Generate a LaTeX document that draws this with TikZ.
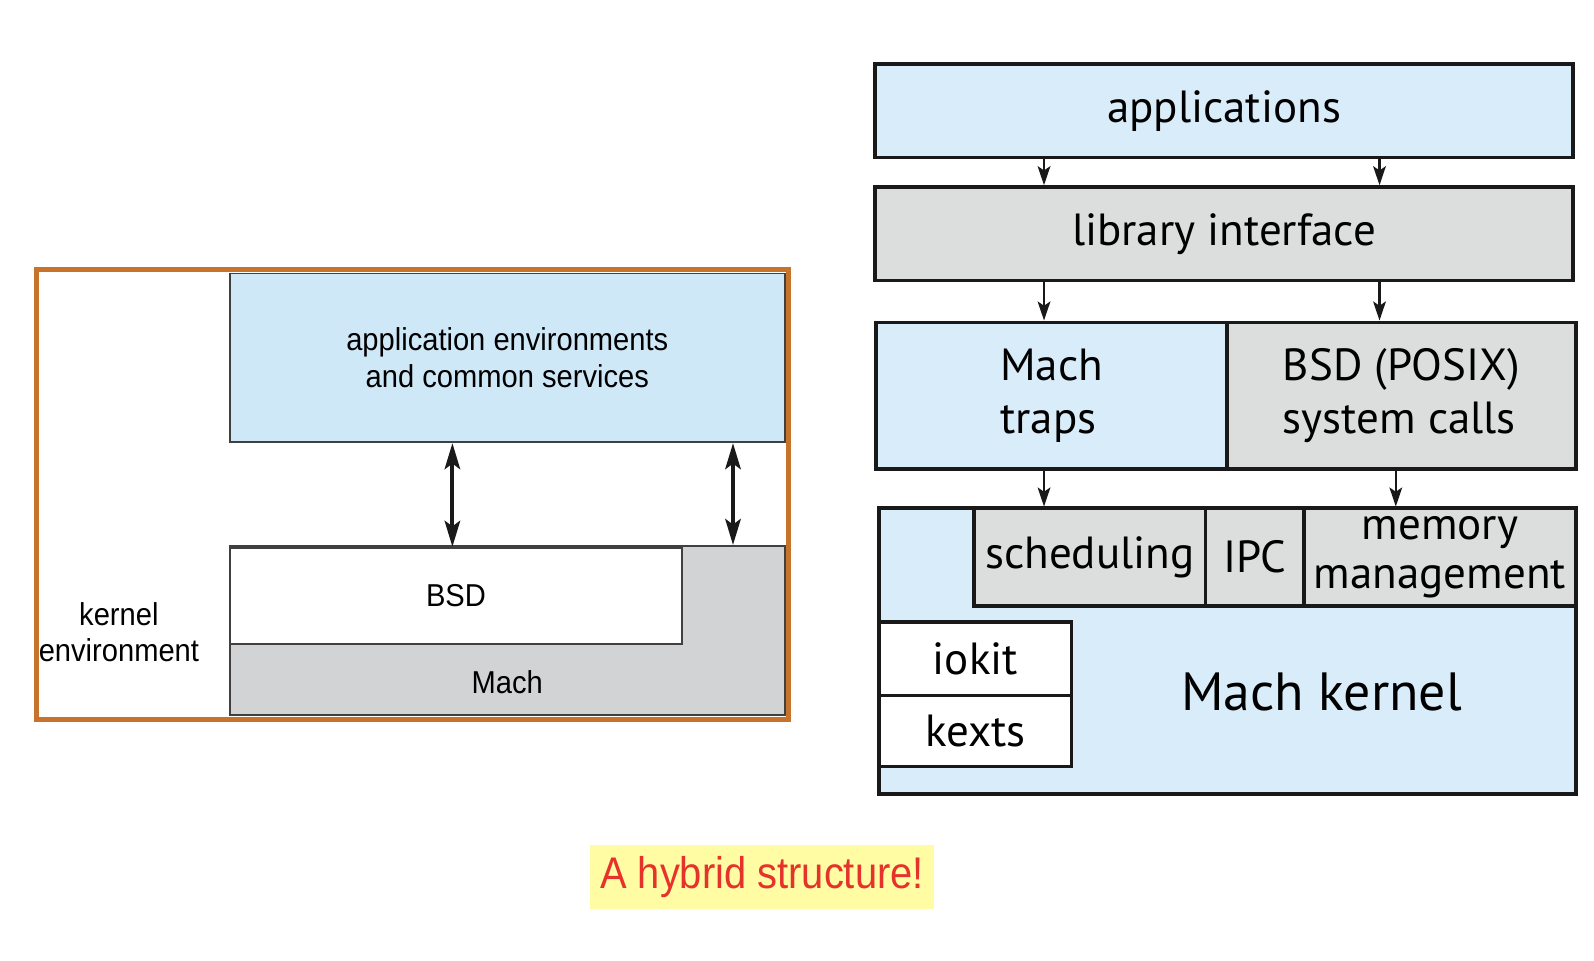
\documentclass[tikz,border=0pt]{standalone}
\usepackage{fontspec}
\setmainfont{PT Sans}
\newfontfamily\helv[FakeStretch=0.92]{Liberation Sans}
\newfontfamily\capfont[FakeStretch=0.9]{Liberation Sans}
\usetikzlibrary{arrows.meta}

\definecolor{leftblue}{HTML}{CFE8F7}
\definecolor{rightblue}{HTML}{D9ECF9}
\definecolor{leftgray}{HTML}{D1D3D4}
\definecolor{rightgray}{HTML}{DCDDDD}
\definecolor{frameorange}{HTML}{C8732B}
\definecolor{capyellow}{HTML}{FFFCA3}
\definecolor{capred}{HTML}{E5322A}

\tikzset{
  layer/.style={draw=black!90,line width=1pt,inner sep=0pt,align=center,
    font=\fontsize{12.8}{15}\selectfont},
  oldlayer/.style={draw=black!75,line width=0.5pt,inner sep=0pt,align=center,
    font=\helv\fontsize{9}{10.4}\selectfont},
  oldtext/.style={inner sep=0pt,align=center,font=\helv\fontsize{9}{10.4}\selectfont},
  flow/.style={-{Stealth[length=5.4pt,width=3.6pt,inset=1.2pt]},line width=0.7pt,black!90},
  both/.style={{Stealth[length=7.4pt,width=4.4pt,inset=1.6pt]}-{Stealth[length=7.4pt,width=4.4pt,inset=1.6pt]},
    line width=1.1pt,black!90},
}

\begin{document}
\begin{tikzpicture}[x=0.01cm,y=-0.01cm]
  \useasboundingbox (0,0) rectangle (1594,960);

  % left: kernel environment
  \node[oldlayer,fill=leftblue,minimum width=5.55cm,minimum height=1.687cm]
    (appenv) at (507.3,357.85) {application environments\\and common services};
  \node[oldlayer,fill=leftgray,minimum width=5.55cm,minimum height=1.688cm]
    (mach) at (507.3,630.3) {};
  \node[oldlayer,fill=white,minimum width=4.523cm,minimum height=0.966cm]
    (bsd) at (455.95,596) {BSD};
  \node[oldtext] (machtxt) at (507.3,682.1) {Mach};
  \node[oldtext] (kenv) at (118.9,632.3) {kernel\\environment};

  \coordinate (armA) at (452.4,0);
  \coordinate (armB) at (733,0);
  \draw[both] (armA |- appenv.south) -- (armA |- bsd.north);
  \draw[both] (armB |- appenv.south) -- (armB |- mach.north);

  \draw[frameorange,line width=1.4pt] (36.6,269.4) rectangle (788.9,719.8);

  % right: layers
  \node[layer,fill=rightblue,minimum width=6.974cm,minimum height=0.936cm]
    (apps) at (1224,110.8) {applications};
  \node[layer,fill=rightgray,minimum width=6.974cm,minimum height=0.936cm]
    (lib) at (1224,233.8) {library interface};
  \node[layer,fill=rightblue,align=left,minimum width=3.507cm,minimum height=1.464cm]
    (traps) at (1051.65,395.5) {Mach\\traps};
  \node[layer,fill=rightgray,align=left,minimum width=3.487cm,minimum height=1.464cm]
    (posix) at (1401.35,395.5) {BSD (POSIX)\\system calls};

  \node[layer,fill=rightblue,minimum width=6.963cm,minimum height=2.857cm]
    (kern) at (1227.55,651.15) {};
  \node[layer,fill=rightgray,minimum width=2.318cm,minimum height=0.976cm]
    (sched) at (1089.8,557.1) {scheduling};
  \node[layer,fill=rightgray,minimum width=0.986cm,minimum height=0.976cm]
    (ipc) at (1255,557.1) {IPC};
  \node[layer,fill=rightgray,minimum width=2.714cm,minimum height=0.976cm]
    (mem) at (1440,557.1) {memory\\[-1pt]management};
  \node[layer,fill=white,minimum width=1.921cm,minimum height=0.731cm]
    (iokit) at (975.45,658.75) {iokit};
  \node[layer,fill=white,minimum width=1.921cm,minimum height=0.712cm]
    (kexts) at (975.45,730.9) {kexts};
  \node[inner sep=0pt,font=\fontsize{15.3}{18}\selectfont]
    (kerntxt) at (1321.6,692.3) {Mach kernel};

  \coordinate (colL) at (1044,0);
  \coordinate (colR) at (1379.5,0);
  \coordinate (colM) at (1395.8,0);
  \draw[flow] (colL |- apps.south) -- (colL |- lib.north);
  \draw[flow] (colR |- apps.south) -- (colR |- lib.north);
  \draw[flow] (colL |- lib.south) -- (colL |- traps.north);
  \draw[flow] (colR |- lib.south) -- (colR |- posix.north);
  \draw[flow] (colL |- traps.south) -- (colL |- sched.north);
  \draw[flow] (colM |- posix.south) -- (colM |- mem.north);

  % caption
  \node[fill=capyellow,text=capred,inner sep=0pt,minimum width=3.447cm,minimum height=0.64cm,
    font=\capfont\fontsize{12.6}{15}\selectfont] (cap) at (762,877) {A hybrid structure!};
\end{tikzpicture}
\end{document}
